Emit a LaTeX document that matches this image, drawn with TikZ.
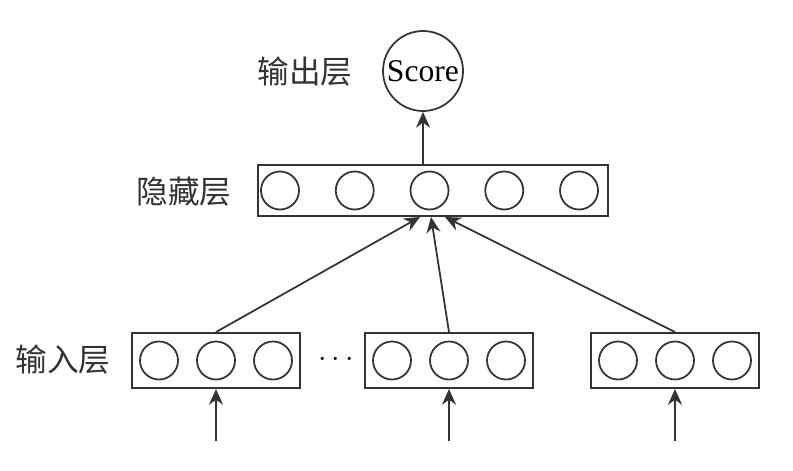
\documentclass[tikz,border=0pt]{standalone}
\usepackage{fontspec}
\setmainfont{Liberation Serif}
\newfontfamily\cjk{Noto Sans CJK SC}
\usetikzlibrary{arrows.meta}
\begin{document}
\begin{tikzpicture}[font=\fontsize{17}{20}\selectfont, line width=1.1pt, draw=black!80,
  layer/.style={rectangle, draw=black!80, minimum height=#1, inner sep=0pt},
  unit/.style={circle, draw=black!80, line width=1pt, minimum size=0.76cm, inner sep=0pt},
  lab/.style={font=\cjk\fontsize{18}{20}\selectfont, text=black!80},
  arr/.style={draw=black!80, line width=1pt, -{Stealth[length=9pt, width=8pt]}}]
  \useasboundingbox (0,0) rectangle (15.86,9.4);
  % output layer
  \node[circle, draw=black!80, line width=1pt, minimum size=1.6cm, inner sep=0pt, font=\fontsize{18}{20}\selectfont] (score) at (8.46,7.98) {Score};
  \node[lab] (outlab) at (6.1,7.96) {输出层};
  % hidden layer
  \node[layer=1.02cm, minimum width=7cm] (hid) at (8.66,5.59) {};
  \foreach \i in {1,...,5}
    \node[unit] (h\i) at ({5.6+1.495*(\i-1)},5.59) {};
  \node[lab] (hidlab) at (3.68,5.56) {隐藏层};
  % input layer
  \node[layer=1.1cm, minimum width=3.36cm] (in1) at (4.32,2.19) {};
  \node[layer=1.1cm, minimum width=3.36cm] (in2) at (8.98,2.19) {};
  \node[layer=1.1cm, minimum width=3.36cm] (in3) at (13.5,2.19) {};
  \foreach \b in {1,2,3}
    \foreach \j in {1,2,3}
      \node[unit] (x\b\j) at ([xshift={(\j-2)*1.14cm}]in\b.center) {};
  \node[lab] (inlab) at (1.26,2.2) {输入层};
  \node (dots) at (6.72,2.2) {$\cdots$};
  % connectors
  \draw[arr] (score.south |- hid.north) -- (score.south);
  \draw[arr] (in1.north) -- ([xshift=-0.26cm]hid.south);
  \draw[arr] (in2.north) -- ([xshift=-0.04cm]hid.south);
  \draw[arr] (in3.north) -- ([xshift=0.24cm]hid.south);
  \foreach \b in {1,2,3} {
    \coordinate (s\b) at ([yshift=-1.04cm]in\b.south);
    \draw[arr] (s\b) -- (in\b.south);
  }
\end{tikzpicture}
\end{document}
